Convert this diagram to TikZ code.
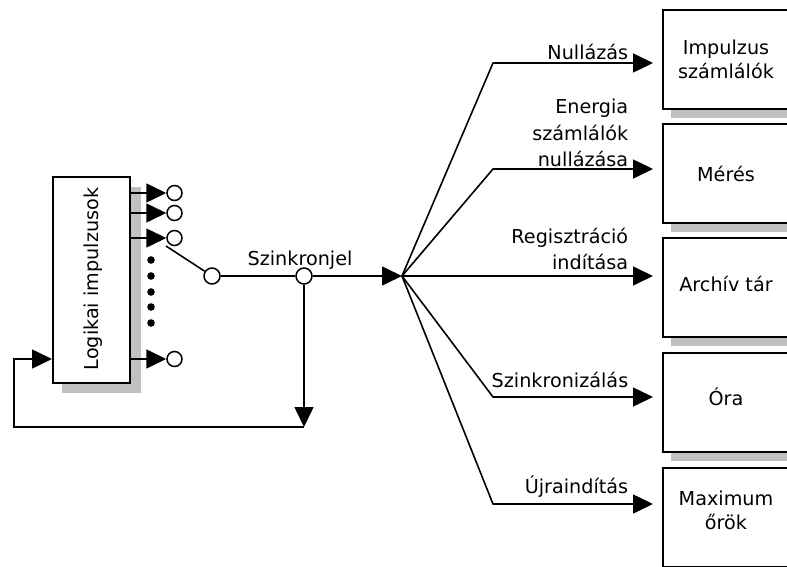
\documentclass[tikz,border=0pt]{standalone}
\usepackage{fontspec}
\setmainfont{DejaVu Sans}
\usetikzlibrary{arrows.meta}
\newcommand\diagfont{\fontsize{19.2}{23}\selectfont}
\definecolor{shadowgray}{RGB}{192,192,192}
\begin{document}
\begin{tikzpicture}[x=1pt,y=-1pt,
  line width=1.6pt,
  arr/.style={-{Triangle[length=20pt,width=19pt]}},
  blk/.style={draw, line width=2pt, fill=white, rectangle, inner sep=0pt, anchor=north west},
  port/.style={circle, draw, fill=white, inner sep=0pt, minimum size=15pt, line width=1.5pt},
  lbl/.style={anchor=base east, inner sep=0pt, font=\diagfont},
  boxtxt/.style={anchor=base, inner sep=0pt, font=\diagfont},
]
\useasboundingbox (0,0) rectangle (787,567);

% shadows of the blocks
\fill[shadowgray] (62,187) rectangle (141,393);
\foreach \t in {9,123,237,352,467}
  \fill[shadowgray] (671,\t+10) rectangle ++(128,99);

% logic pulse generator
\node[blk, minimum width=77pt, minimum height=206pt] (logic) at (52,176) {};
\node[rotate=90, font=\diagfont, inner sep=0pt] (logictxt) at (93,279) {Logikai impulzusok};

% output ports
\node[port] (o1) at (174.5,193) {};
\node[port] (o2) at (174.5,213) {};
\node[port] (o3) at (174.5,238) {};
\node[port] (o4) at (174.5,359) {};
\draw[arr] (logic.east |- o1) -- (o1);
\draw[arr] (logic.east |- o2) -- (o2);
\draw[arr] (logic.east |- o3) -- (o3);
\draw[arr] (logic.east |- o4) -- (o4);
\foreach \y in {260,276,292,307,323}
  \fill (151,\y) circle (3.8);

% selector switch and sync line
\coordinate (sw0) at (166,246);
\node[port, minimum size=16pt] (sw) at (212,276) {};
\node[port, minimum size=16pt] (sz) at (304,276) {};
\coordinate (fan) at (402,276);
\draw (sw0) -- (sw);
\draw (sw) -- (sz);
\draw[arr] (sz) -- (fan);
\node[anchor=base, inner sep=0pt, font=\diagfont] (szl) at (300,265) {Szinkronjel};

% feedback loop
\coordinate (fb) at (304,427);
\coordinate (fbc) at (14,427);
\draw[arr] (sz) -- (fb);
\draw[arr] (fb) -- (fbc) |- (logic.west |- o4);

% target blocks
\node[blk, minimum width=128pt, minimum height=99pt] (b1) at (662,9) {};
\node[blk, minimum width=128pt, minimum height=99pt] (b2) at (662,123) {};
\node[blk, minimum width=128pt, minimum height=99pt] (b3) at (662,237) {};
\node[blk, minimum width=128pt, minimum height=99pt] (b4) at (662,352) {};
\node[blk, minimum width=128pt, minimum height=99pt] (b5) at (662,467) {};
\node[boxtxt] (b1a) at (726,55) {Impulzus};
\node[boxtxt] (b1b) at (726,79) {számlálók};
\node[boxtxt] (b2a) at (726,182) {Mérés};
\node[boxtxt] (b3a) at (726,291) {Archív tár};
\node[boxtxt] (b4a) at (726,405) {Óra};
\node[boxtxt] (b5a) at (726,505) {Maximum};
\node[boxtxt] (b5b) at (726,529) {őrök};

% fan-out of the sync signal
\coordinate (t1) at (653,63);
\coordinate (t2) at (653,169);
\coordinate (t3) at (653,276);
\coordinate (t4) at (653,397);
\coordinate (t5) at (653,504);
\draw[arr, line join=round] (fan) -- (493,63) -- (t1);
\draw[arr, line join=round] (fan) -- (493,169) -- (t2);
\draw[arr] (fan) -- (t3);
\draw[arr, line join=round] (fan) -- (493,397) -- (t4);
\draw[arr, line join=round] (fan) -- (493,504) -- (t5);

% signal labels
\node[lbl] (l1) at (629,60) {Nullázás};
\node[lbl] (l2a) at (629,114) {Energia};
\node[lbl] (l2b) at (629,141) {számlálók};
\node[lbl] (l2c) at (629,167) {nullázása};
\node[lbl] (l3a) at (629,243) {Regisztráció};
\node[lbl] (l3b) at (629,269) {indítása};
\node[lbl] (l4) at (629,387) {Szinkronizálás};
\node[lbl] (l5) at (629,493) {Újraindítás};
\end{tikzpicture}
\end{document}
